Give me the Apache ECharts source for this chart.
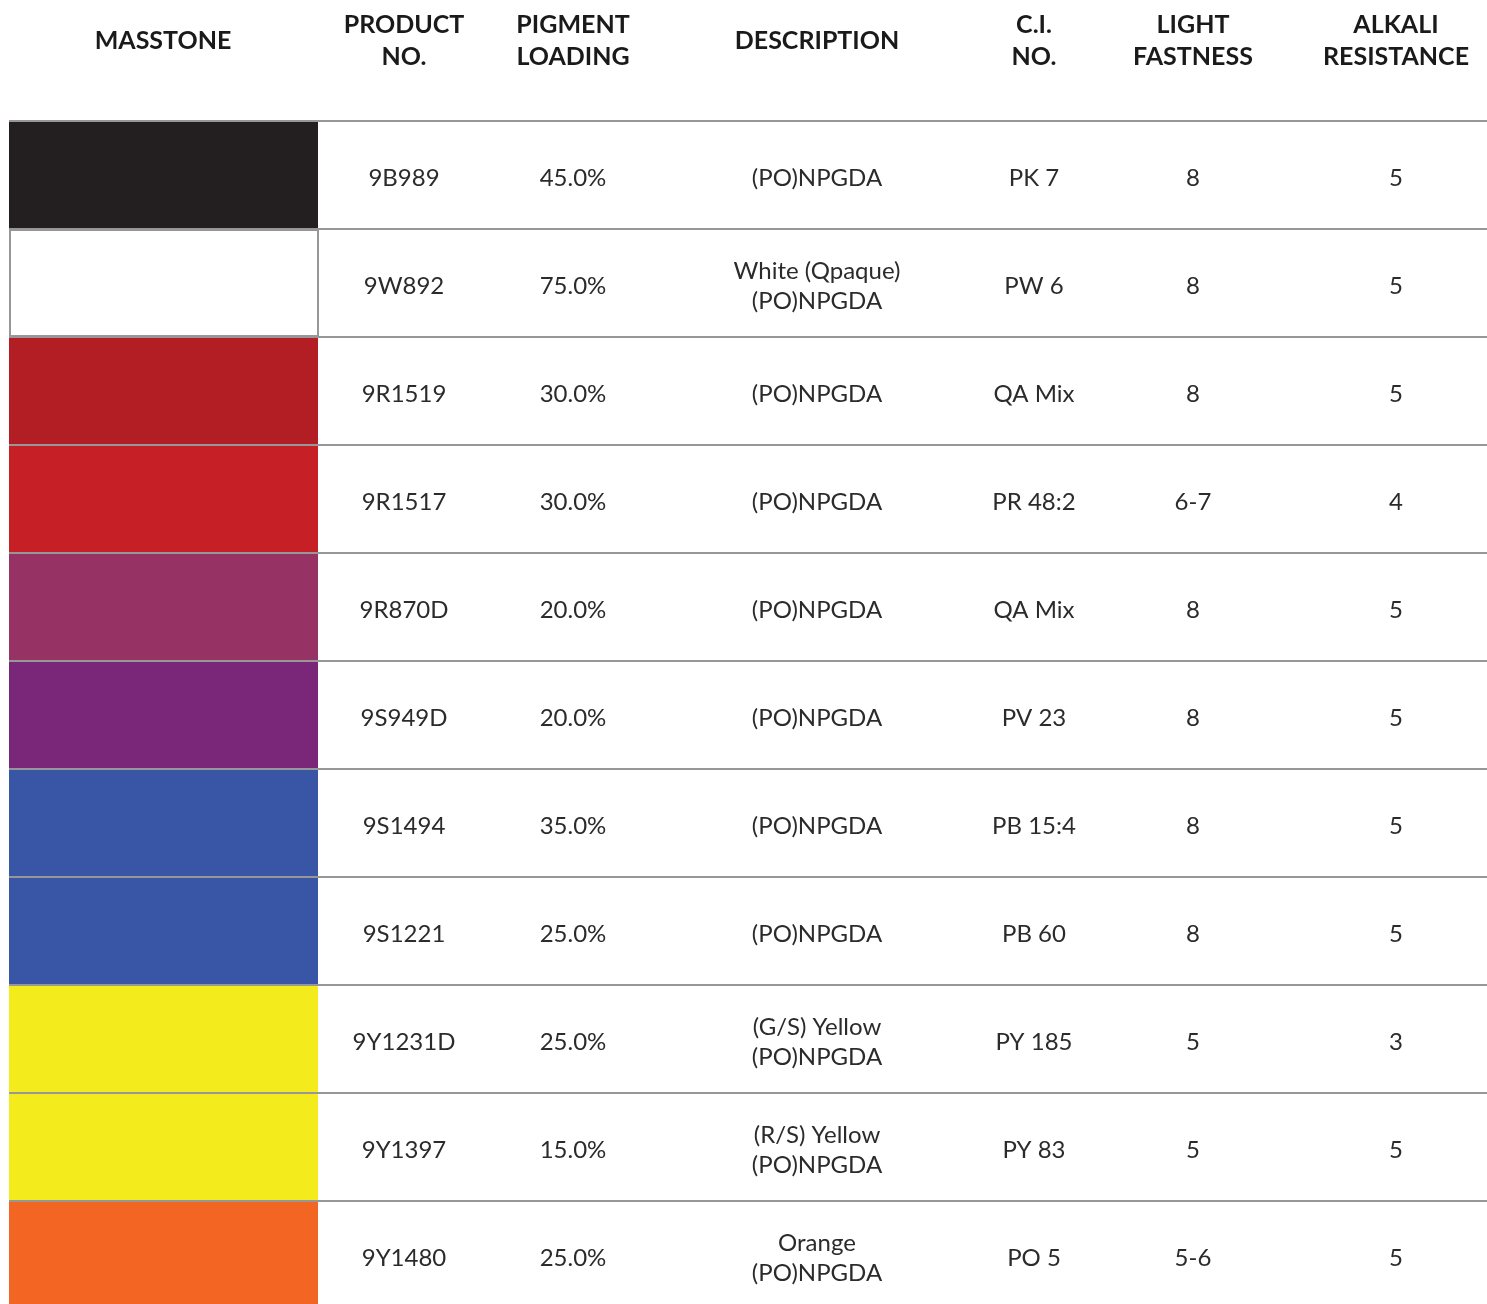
<!DOCTYPE html>
<html>
<head>
<meta charset="utf-8">
<script src="https://cdn.jsdelivr.net/npm/echarts@6/dist/echarts.min.js"></script>
<style>
  html, body { margin: 0; padding: 0; background: #fff; }
  #chart { width: 1487px; height: 1304px; }
</style>
</head>
<body>
<div id="chart"></div>
<script>
// table data
var products = ['9B989', '9W892', '9R1519', '9R1517', '9R870D', '9S949D', '9S1494', '9S1221', '9Y1231D', '9Y1397', '9Y1480'];
var loadings = [45, 75, 30, 30, 20, 20, 35, 25, 25, 15, 25];
var descriptions = ['(PO)NPGDA', 'White (Qpaque)\n(PO)NPGDA', '(PO)NPGDA', '(PO)NPGDA', '(PO)NPGDA', '(PO)NPGDA',
  '(PO)NPGDA', '(PO)NPGDA', '(G/S) Yellow\n(PO)NPGDA', '(R/S) Yellow\n(PO)NPGDA', 'Orange\n(PO)NPGDA'];
var ciNos = ['PK 7', 'PW 6', 'QA Mix', 'PR 48:2', 'QA Mix', 'PV 23', 'PB 15:4', 'PB 60', 'PY 185', 'PY 83', 'PO 5'];
var lightFastness = ['8', '8', '8', '6-7', '8', '8', '8', '8', '5', '5', '5-6'];
var alkaliResistance = [5, 5, 5, 4, 5, 5, 5, 5, 3, 5, 5];
var masstones = ['#231f20', '#ffffff', '#b31e24', '#c62026', '#973264', '#7a2779', '#3955a5', '#3955a5', '#f3eb1c', '#f3eb1c', '#f36522'];
var headers = ['MASSTONE', 'PRODUCT\nNO.', 'PIGMENT\nLOADING', 'DESCRIPTION', 'C.I.\nNO.', 'LIGHT\nFASTNESS', 'ALKALI\nRESISTANCE'];

// column centres (page x) and swatch right edge
var colX = [163, 404, 573, 817, 1034, 1193, 1396];
var swatchRight = 318;
var lineColor = '#97979a';
var textColor = '#2b2b2b';
var bodyFont = 'Lato, "Open Sans", sans-serif';

var myChart = echarts.init(document.getElementById('chart'));

var graphics = headers.map(function (h, i) {
  return {
    type: 'text',
    x: colX[i],
    y: 41,
    style: {
      text: h,
      align: 'center',
      verticalAlign: 'middle',
      fontSize: 25,
      fontWeight: 'bold',
      fontFamily: bodyFont,
      lineHeight: 32,
      fill: '#1a1a1a'
    }
  };
});

function cellText(str, x, y) {
  return {
    type: 'text',
    style: {
      text: str,
      x: x,
      y: y + 3,
      align: 'center',
      verticalAlign: 'middle',
      fontSize: 24,
      fontFamily: bodyFont,
      lineHeight: 30,
      fill: textColor
    }
  };
}

function renderRow(params, api) {
  var idx = api.value(0);
  var cy = api.coord([0, idx])[1];
  var h = api.size([0, 1])[1];
  var cs = params.coordSys;
  var top = cy - h / 2;
  var left = cs.x;
  var right = cs.x + cs.width;
  var children = [];
  var col = masstones[idx];
  var isWhite = col.toLowerCase() === '#ffffff';
  children.push({
    type: 'rect',
    shape: { x: left + (isWhite ? 1 : 0), y: top + 1, width: swatchRight - left - (isWhite ? 1 : 0), height: h - 2 },
    style: { fill: col, stroke: isWhite ? lineColor : null, lineWidth: isWhite ? 2 : 0 }
  });
  // row separator lines
  children.push({
    type: 'line',
    shape: { x1: left, y1: top, x2: right, y2: top },
    style: { stroke: lineColor, lineWidth: 2 }
  });
  children.push({
    type: 'line',
    shape: { x1: left, y1: top + h, x2: right, y2: top + h },
    style: { stroke: lineColor, lineWidth: 2 }
  });
  children.push(cellText(products[idx], colX[1], cy));
  children.push(cellText(loadings[idx].toFixed(1) + '%', colX[2], cy));
  children.push(cellText(descriptions[idx], colX[3], cy));
  children.push(cellText(ciNos[idx], colX[4], cy));
  children.push(cellText(lightFastness[idx], colX[5], cy));
  children.push(cellText(String(alkaliResistance[idx]), colX[6], cy));
  return { type: 'group', children: children };
}

var option = {
  animation: false,
  backgroundColor: '#fff',
  grid: { left: 9, right: 0, top: 121, height: 1188, outerBoundsMode: 'none', containLabel: false },
  xAxis: { type: 'value', min: 0, max: 1, show: false },
  yAxis: {
    type: 'category',
    data: products,
    inverse: true,
    show: false
  },
  graphic: graphics,
  series: [{
    type: 'custom',
    renderItem: renderRow,
    data: products.map(function (p, i) { return [i]; }),
    encode: { y: 0 },
    clip: false
  }]
};
myChart.setOption(option);
</script>
</body>
</html>
